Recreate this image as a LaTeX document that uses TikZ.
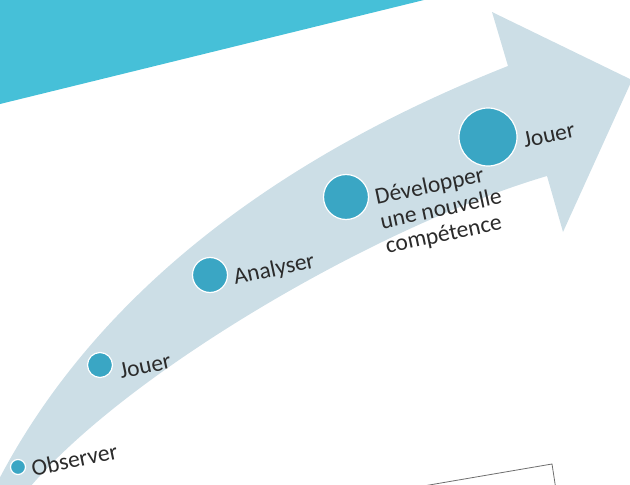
\documentclass[tikz,border=0pt]{standalone}
\usepackage{fontspec}
\setmainfont{Carlito}
\usetikzlibrary{positioning}
\definecolor{bandblue}{HTML}{CCDEE6}
\definecolor{stepblue}{HTML}{3AA6C4}
\definecolor{topcyan}{HTML}{46C0D8}
\definecolor{labelgray}{HTML}{2B2B2B}
\definecolor{boxgray}{HTML}{6E6E6E}

\begin{document}
\begin{tikzpicture}[x=1pt,y=-1pt,
      stepdot/.style={
         circle,
         draw=white,
         line width=1.2pt,
         fill=stepblue,
         inner sep=0pt},
      steptext/.style={
         font=\fontsize{23.5}{25}\selectfont,
         text=labelgray,
         rotate=12,
         inner sep=1pt,
         align=left},
      node distance=4pt
      ]
      \useasboundingbox (0,0) rectangle (630,485);

      % cyan corner top left
      \fill[topcyan] (0,0) -- (424,0) -- (0,104) -- cycle;

      % the big curved arrow
      \fill[bandblue] (-5,487) .. controls (90,300) and (270,160) .. (508,66)
         -- (492,12) -- (632,80) -- (563,232) -- (547,176)
         .. controls (380,225) and (130,370) .. (30,487) -- cycle;

      \node[stepdot, minimum size=15pt] (s1) at (18,467) {};
      \node[stepdot, minimum size=25pt] (s2) at (100,365) {};
      \node[stepdot, minimum size=35pt] (s3) at (210,275) {};
      \node[stepdot, minimum size=45pt] (s4) at (346,197) {};
      \node[stepdot, minimum size=58pt] (s5) at (488,137) {};

      \node[steptext, right=of s1, yshift=-2pt] (t1) {Observer};
      \node[steptext, right=of s2, yshift=-7pt] (t2) {Jouer};
      \node[steptext, right=of s3, yshift=-4pt] (t3) {Analyser};
      \node[steptext, right=of s4, xshift=1pt, yshift=-27pt] (t4) {Développer\\une nouvelle\\compétence};
      \node[steptext, right=of s5, yshift=-4pt] (t5) {Jouer};

      % corner of the framed note, cut by the bottom edge
      \draw[boxgray, line width=0.8pt] (400,490) -- (552,464) -- (556,490);
\end{tikzpicture}
\end{document}
